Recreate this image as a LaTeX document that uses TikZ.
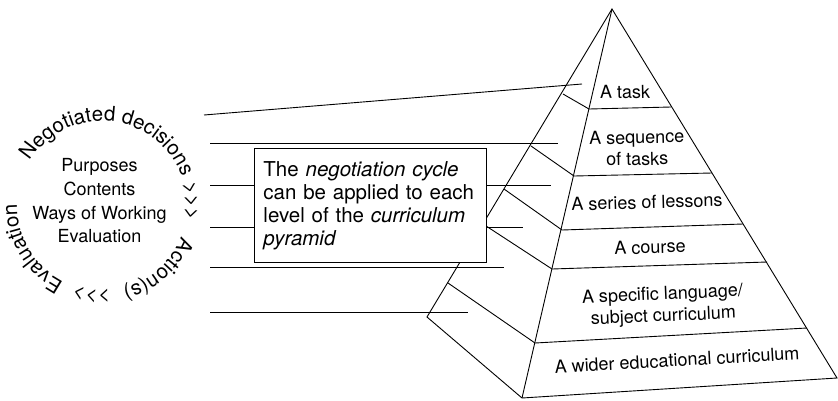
\documentclass[tikz,border=0pt]{standalone}
\usepackage{fontspec}
\setmainfont{TeX Gyre Heros}
\usetikzlibrary{decorations.text}

\newcommand{\levelfont}{\fontsize{18}{21.7}\selectfont}
\newcommand{\notefont}{\fontsize{20.5}{23}\selectfont}
\newcommand{\cyclefont}{\fontsize{20.5}{22}\selectfont}
\newcommand{\aspectfont}{\fontsize{18}{23.7}\selectfont}

\tikzset{
  level/.style={font=\levelfont, align=center, inner sep=0pt},
  cycletext/.style={decorate, decoration={text along path, text align=center, text={|\cyclefont|#1}}},
}

\begin{document}
\begin{tikzpicture}[x=1pt, y=-1pt, line width=0.9pt]
\useasboundingbox (0,0) rectangle (838,400);

% pyramid corners
\coordinate (top) at (612,9);
\coordinate (fb) at (522,398);
\coordinate (lb) at (427,317);
\coordinate (rb) at (837,378);
% level lines: left face / front edge / right edge
\coordinate (l1) at (563,94);  \coordinate (f1) at (589,109); \coordinate (r1) at (671,107);
\coordinate (l2) at (531,146); \coordinate (f2) at (574,176); \coordinate (r2) at (712,173);
\coordinate (l3) at (504,189); \coordinate (f3) at (562,230); \coordinate (r3) at (743,224);
\coordinate (l4) at (483,224); \coordinate (f4) at (552,269); \coordinate (r4) at (767,262);
\coordinate (l5) at (448,283); \coordinate (f5) at (535,343); \coordinate (r5) at (807,328);

\draw (top) -- (lb) -- (fb) -- (rb) -- cycle;
\draw (top) -- (fb);
\foreach \i in {1,...,5}
  \draw (l\i) -- (f\i) -- (r\i);

% lines from the cycle to the levels
\coordinate (s1) at (204,115); \coordinate (e1) at (582,84);
\coordinate (s2) at (210,143); \coordinate (e2) at (558,143);
\coordinate (s3) at (210,185); \coordinate (e3) at (551,185);
\coordinate (s4) at (210,227); \coordinate (e4) at (523,227);
\coordinate (s5) at (210,267); \coordinate (e5) at (504,267);
\coordinate (s6) at (210,312); \coordinate (e6) at (468,312);
\foreach \i in {1,...,6}
  \draw (s\i) -- (e\i);

% level labels
\node[level, rotate=1] (task) at (625,92) {A task};
\node[level, rotate=1.2] (sequence) at (637,148) {A sequence\\of tasks};
\node[level, rotate=1.6] (series) at (647,202) {A series of lessons};
\node[level, rotate=1.9] (course) at (650,247) {A course};
\node[level, rotate=2.5] (subject) at (663,306) {A specific language/\\subject curriculum};
\node[level, rotate=3.3] (wider) at (677,360) {A wider educational curriculum};

% note box
\node[draw, fill=white, anchor=north west, text width=214pt, inner xsep=9pt,
      minimum height=114pt, align=left, font=\notefont] (note) at (254,148)
  {The \textit{negotiation cycle}\\can be applied to each\\level of the \textit{curriculum}\\\textit{pyramid}};

% negotiation cycle
\coordinate (hub) at (102,206);
\node[font=\aspectfont, align=center, inner sep=0pt] (aspects) at (99.5,201)
  {Purposes\\Contents\\Ways of Working\\Evaluation};
\path[cycletext={Negotiated decisions}] (hub) ++(-154:85) arc[start angle=-154, end angle=-14, radius=85];
\path[cycletext={>>>}] (hub) ++(-20:84) arc[start angle=-20, end angle=14, radius=84];
\path[cycletext={Action(s)}] (hub) ++(16:85) arc[start angle=16, end angle=81, radius=85];
\path[cycletext={>>>}] (hub) ++(80:85) arc[start angle=80, end angle=114, radius=85];
\path[cycletext={Evaluation}] (hub) ++(112:85) arc[start angle=112, end angle=186, radius=85];
\end{tikzpicture}
\end{document}
